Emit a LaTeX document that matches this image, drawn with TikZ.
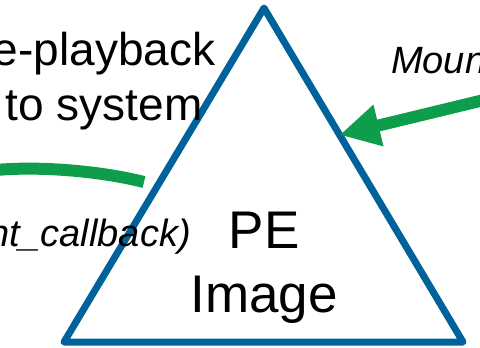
\documentclass[tikz,border=0pt]{standalone}
\usepackage{fontspec}
\setmainfont{Liberation Sans}
\usetikzlibrary{arrows.meta, positioning, calc}
\definecolor{peblue}{RGB}{0,98,155}
\definecolor{cbgreen}{RGB}{14,157,75}

\begin{document}
\begin{tikzpicture}[x=1pt, y=-1pt,
		image/.style={draw=peblue, line width=7pt, line join=round},
		hook/.style={draw=cbgreen, line width=12pt},
		big/.style={inner sep=0pt, align=center, font=\fontsize{46}{55}\selectfont},
		huge/.style={inner sep=0pt, align=center, font=\fontsize{53}{64}\selectfont},
		call/.style={inner sep=0pt, font=\fontsize{38}{46}\selectfont\itshape}]
	\useasboundingbox (0,0) rectangle (480,348);
	\clip (0,0) rectangle (480,348);
	\coordinate (apex) at (264,8);
	\coordinate (bl) at (64,342);
	\coordinate (br) at (463,342);
	\draw[image] (apex) -- (bl) -- (br) -- cycle;
	\node[huge, anchor=base] (pe) at (264,312) {PE\\Image};
	\node[big, anchor=base] (reg) at (104,120) {e-playback\\to system};
	\node[call, anchor=base east] (cb) at (191,246) {nt\_callback)};
	\node[call, anchor=base west] (mnt) at (391,73) {Moun};
	\coordinate (hit) at ($(apex)!0.38!(br)$);
	\coordinate (mfrom) at (484,100);
	\coordinate (cbfrom) at (-4,170);
	\coordinate (cbto) at (144,182);
	\draw[hook, -{Triangle[length=40pt, width=40pt]}] (mfrom) -- (hit);
	\draw[hook] (cbfrom) .. controls (40,166) and (100,171) .. (cbto);
\end{tikzpicture}
\end{document}
